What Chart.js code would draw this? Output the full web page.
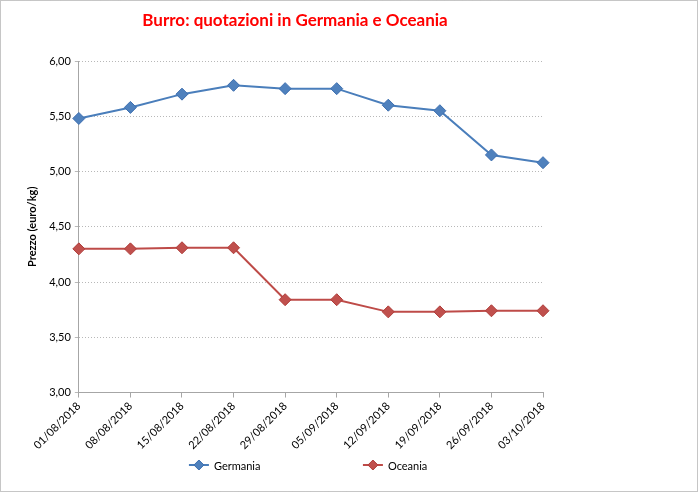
<!DOCTYPE html>
<html>
<head>
<meta charset="utf-8">
<script src="https://cdn.jsdelivr.net/npm/chart.js@4/dist/chart.umd.min.js"></script>
<style>
  html, body { margin: 0; padding: 0; background: #fff; }
  #wrap { width: 698px; height: 492px; position: relative; }
</style>
</head>
<body>
<div id="wrap"><canvas id="chart" width="698" height="492"></canvas></div>
<script>
// date di rilevazione
const dates = ["01/08/2018", "08/08/2018", "15/08/2018", "22/08/2018", "29/08/2018",
               "05/09/2018", "12/09/2018", "19/09/2018", "26/09/2018", "03/10/2018"];
// quotazioni burro euro/kg
const germania = [5.48, 5.58, 5.70, 5.78, 5.75, 5.75, 5.60, 5.55, 5.15, 5.08];
const oceania  = [4.30, 4.30, 4.31, 4.31, 3.84, 3.84, 3.73, 3.73, 3.74, 3.74];
const yTicks = [3.0, 3.5, 4.0, 4.5, 5.0, 5.5, 6.0];

const titleText = "Burro: quotazioni in Germania e Oceania";
const fontName = "Lato, 'Open Sans', sans-serif";

// titolo, bordo e legenda disegnati a mano
const decor = {
    id: "decor",
    beforeDraw(chart) {
        const c = chart.ctx;
        c.save();
        c.fillStyle = "#fff";
        c.fillRect(0, 0, chart.width, chart.height);
        c.restore();
    },
    afterDraw(chart) {
        const c = chart.ctx;
        const area = chart.chartArea;
        c.save();
        // bordo tratteggiato
        c.strokeStyle = "#8c8c8c";
        c.lineWidth = 1;
        c.setLineDash([1, 1]);
        c.strokeRect(0.5, 0.5, chart.width - 1, chart.height - 1);
        c.setLineDash([]);
        // titolo
        c.fillStyle = "#ff0000";
        c.font = "bold 17px " + fontName;
        c.textAlign = "center";
        c.textBaseline = "middle";
        c.fillText(titleText, 295, 21);
        // legenda
        const cx = (area.left + area.right) / 2;
        const y = 465;
        const items = chart.data.datasets.map((ds, i) => ({ ds, x: i === 0 ? cx - 122 : cx + 52 }));
        c.font = "11px " + fontName;
        c.textAlign = "left";
        items.forEach(({ ds, x }) => {
            c.strokeStyle = ds.borderColor;
            c.lineWidth = 2;
            c.beginPath();
            c.moveTo(x, y);
            c.lineTo(x + 20, y);
            c.stroke();
            c.fillStyle = ds.pointBackgroundColor;
            c.strokeStyle = ds.pointBorderColor;
            c.lineWidth = 1;
            c.beginPath();
            c.moveTo(x + 10, y - 5);
            c.lineTo(x + 15, y);
            c.lineTo(x + 10, y + 5);
            c.lineTo(x + 5, y);
            c.closePath();
            c.fill();
            c.stroke();
            c.fillStyle = "#000";
            c.fillText(ds.label, x + 25, y + 1);
        });
        c.restore();
    }
};

const ctx = document.getElementById("chart").getContext("2d");
const chart = new Chart(ctx, {
    type: "line",
    data: {
        labels: dates,
        datasets: [{
            label: "Germania",
            data: germania,
            borderColor: "#4a7ebb",
            borderWidth: 2,
            pointStyle: "rectRot",
            pointRadius: 6,
            pointBackgroundColor: "#4f81bd",
            pointBorderColor: "#3d6fb0",
            pointBorderWidth: 1,
            fill: false,
            tension: 0
        }, {
            label: "Oceania",
            data: oceania,
            borderColor: "#be4b48",
            borderWidth: 2,
            pointStyle: "rectRot",
            pointRadius: 6,
            pointBackgroundColor: "#c0504d",
            pointBorderColor: "#b03e3b",
            pointBorderWidth: 1,
            fill: false,
            tension: 0
        }]
    },
    options: {
        responsive: false,
        animation: false,
        layout: { padding: { top: 61, left: 22, right: 155, bottom: 38 } },
        plugins: {
            legend: { display: false },
            title: { display: false },
            tooltip: { enabled: false }
        },
        scales: {
            x: {
                offset: false,
                grid: {
                    drawOnChartArea: false,
                    drawTicks: true,
                    tickLength: 5,
                    color: "#a6a6a6"
                },
                border: { color: "#a6a6a6", dash: [1, 2] },
                ticks: {
                    autoSkip: false,
                    minRotation: 45,
                    maxRotation: 45,
                    color: "#000",
                    font: { family: fontName, size: 11 },
                    padding: 2
                }
            },
            y: {
                min: 3,
                max: 6,
                afterBuildTicks(axis) {
                    axis.ticks = yTicks.map(v => ({ value: v }));
                },
                grid: {
                    color: "#b8b8b8",
                    lineWidth: 1,
                    drawTicks: true,
                    tickLength: 4
                },
                border: { color: "#a6a6a6", dash: [1, 2] },
                ticks: {
                    color: "#000",
                    font: { family: fontName, size: 11 },
                    padding: 4,
                    callback: v => v.toFixed(2).replace(".", ",")
                },
                title: {
                    display: true,
                    text: "Prezzo (euro/kg)",
                    color: "#000",
                    font: { family: fontName, size: 11, weight: "bold" },
                    padding: { bottom: 6 }
                }
            }
        }
    },
    plugins: [decor]
});
</script>
</body>
</html>
